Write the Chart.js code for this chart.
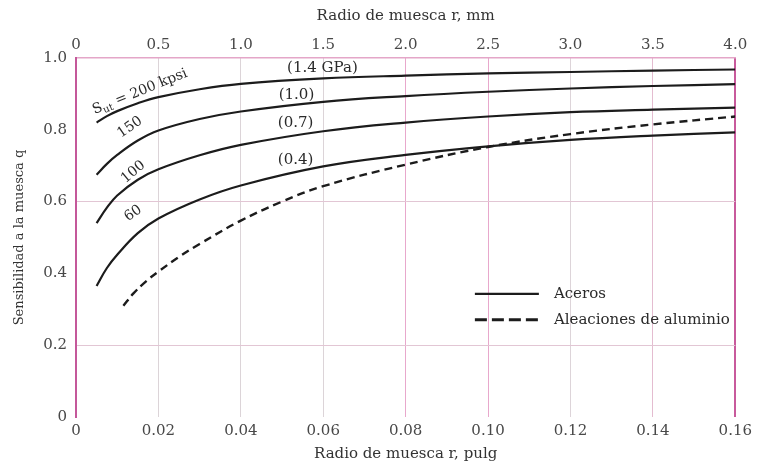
<!DOCTYPE html>
<html>
<head>
<meta charset="utf-8">
<script src="https://cdn.jsdelivr.net/npm/chart.js@4"></script>
<style>
html,body{margin:0;padding:0;background:#ffffff;}
#wrap{width:757px;height:468px;}
</style>
</head>
<body>
<div id="wrap"><canvas id="c" width="757" height="468"></canvas></div>
<script>
// ---- tick labels ----
const xTickLabelsIn = ['0','0.02','0.04','0.06','0.08','0.10','0.12','0.14','0.16'];
const xTickLabelsMm = ['0','0.5','1.0','1.5','2.0','2.5','3.0','3.5','4.0'];
const yTickLabels   = ['0','0.2','0.4','0.6','0.8','1.0'];

// ---- series: notch radius r (in) and notch sensitivity q ----
const steelR    = [0.005, 0.0075, 0.01, 0.015, 0.02, 0.03, 0.04, 0.06, 0.08, 0.10, 0.12, 0.14, 0.16];
const steel200Q = [0.82, 0.838, 0.852, 0.874, 0.891, 0.913, 0.928, 0.943, 0.951, 0.957, 0.961, 0.965, 0.968];
const steel150Q = [0.675, 0.705, 0.73, 0.77, 0.798, 0.83, 0.851, 0.878, 0.894, 0.906, 0.915, 0.922, 0.927];
const steel100Q = [0.54, 0.583, 0.617, 0.661, 0.69, 0.729, 0.758, 0.796, 0.82, 0.837, 0.849, 0.856, 0.862];
const steel60Q  = [0.365, 0.415, 0.452, 0.512, 0.553, 0.606, 0.645, 0.698, 0.73, 0.754, 0.772, 0.784, 0.793];

const aluR = [0.0115, 0.014, 0.017, 0.02, 0.025, 0.03, 0.04, 0.05, 0.06, 0.08, 0.10, 0.12, 0.14, 0.16];
const aluQ = [0.31, 0.345, 0.378, 0.405, 0.446, 0.482, 0.547, 0.60, 0.643, 0.703, 0.752, 0.788, 0.815, 0.837];

// ---- curve annotations (text, anchor in data units, rotation deg) ----
const curveLabelText = ['S|ut| = 200 kpsi', '150', '100', '60', '(1.4 GPa)', '(1.0)', '(0.7)', '(0.4)'];
const curveLabelR    = [0.0155, 0.0131, 0.0139, 0.0139, 0.0598, 0.0535, 0.0533, 0.0533];
const curveLabelQ    = [0.906, 0.807, 0.682, 0.567, 0.972, 0.898, 0.819, 0.715];
const curveLabelRot  = [-22, -35, -40, -35, 0, 0, 0, 0];

const legendText = ['Aceros', 'Aleaciones de aluminio'];

const SERIF = "'DejaVu Serif', 'Liberation Serif', serif";
const INK = '#1c1c1c';

function pts(xs, ys){ return xs.map((x,i)=>({x:x, y:ys[i]})); }

const steelStyle = {borderColor: INK, borderWidth: 2.2, pointRadius: 0, fill: false, tension: 0.4, xAxisID: 'x', yAxisID: 'y'};

const datasets = [
  Object.assign({label: 'Aceros 200 kpsi', data: pts(steelR, steel200Q)}, steelStyle),
  Object.assign({label: 'Aceros 150 kpsi', data: pts(steelR, steel150Q)}, steelStyle),
  Object.assign({label: 'Aceros 100 kpsi', data: pts(steelR, steel100Q)}, steelStyle),
  Object.assign({label: 'Aceros 60 kpsi',  data: pts(steelR, steel60Q)},  steelStyle),
  Object.assign({label: 'Aleaciones de aluminio', data: pts(aluR, aluQ)}, steelStyle, {borderDash: [8,5], borderWidth: 2.4})
];

const xGridColors = ['rgba(0,0,0,0)', '#dcd4d8', '#dcd4d8', '#dcd4d8', '#e8a8cc', '#e8a8cc', '#ddd4d9', '#e4bcd0', '#c85a9c'];
const yGridShown = [0.2, 0.6];

const curveLabelPlugin = {
  id: 'curveLabels',
  afterDatasetsDraw(chart){
    const ctx = chart.ctx, xs = chart.scales.x, ys = chart.scales.y;
    ctx.save();
    ctx.fillStyle = '#2a2a2a';
    ctx.textBaseline = 'middle';
    curveLabelText.forEach((t, i) => {
      const px = xs.getPixelForValue(curveLabelR[i]);
      const py = ys.getPixelForValue(curveLabelQ[i]);
      ctx.save();
      ctx.translate(px, py);
      ctx.rotate(curveLabelRot[i] * Math.PI / 180);
      const parts = t.split('|');
      if (parts.length === 3) {
        const big = '14px ' + SERIF, small = '10px ' + SERIF;
        ctx.font = big; const w1 = ctx.measureText(parts[0]).width, w3 = ctx.measureText(parts[2]).width;
        ctx.font = small; const w2 = ctx.measureText(parts[1]).width;
        let x0 = -(w1 + w2 + w3) / 2;
        ctx.textAlign = 'left';
        ctx.font = big; ctx.fillText(parts[0], x0, 0);
        ctx.font = small; ctx.fillText(parts[1], x0 + w1, 4);
        ctx.font = big; ctx.fillText(parts[2], x0 + w1 + w2, 0);
      } else {
        ctx.font = (i < 4 ? '14px ' : '15px ') + SERIF;
        ctx.textAlign = 'center';
        ctx.fillText(t, 0, 0);
      }
      ctx.restore();
    });
    ctx.restore();
  }
};

const legendPlugin = {
  id: 'customLegend',
  afterDatasetsDraw(chart){
    const ctx = chart.ctx, xs = chart.scales.x, ys = chart.scales.y;
    const x0 = xs.getPixelForValue(0.0968);
    const y0 = ys.getPixelForValue(0.343);
    ctx.save();
    ctx.strokeStyle = INK;
    ctx.fillStyle = '#2a2a2a';
    ctx.font = '15px ' + SERIF;
    ctx.textBaseline = 'middle';
    ctx.textAlign = 'left';
    ctx.lineWidth = 2.4; ctx.setLineDash([]);
    ctx.beginPath(); ctx.moveTo(x0, y0); ctx.lineTo(x0 + 64, y0); ctx.stroke();
    ctx.fillText(legendText[0], x0 + 79, y0);
    const y1 = y0 + 26;
    ctx.lineWidth = 3; ctx.setLineDash([12, 5]);
    ctx.beginPath(); ctx.moveTo(x0, y1); ctx.lineTo(x0 + 64, y1); ctx.stroke();
    ctx.setLineDash([]);
    ctx.fillText(legendText[1], x0 + 79, y1);
    ctx.restore();
  }
};

const bgPlugin = {
  id: 'bg',
  beforeDraw(chart){
    const ctx = chart.ctx;
    ctx.save(); ctx.fillStyle = '#ffffff'; ctx.fillRect(0, 0, chart.width, chart.height); ctx.restore();
  }
};

const TICK_COLOR = '#484848';

new Chart(document.getElementById('c'), {
  type: 'line',
  data: { datasets: datasets },
  options: {
    responsive: false,
    devicePixelRatio: 1,
    animation: false,
    layout: { padding: { left: 0, right: 20, top: 0, bottom: 0 } },
    plugins: { legend: { display: false }, tooltip: { enabled: false } },
    scales: {
      x: {
        type: 'linear', position: 'bottom', min: 0, max: 0.16,
        afterBuildTicks(s){ s.ticks = xTickLabelsIn.map((l,i)=>({value: i*0.02})); },
        afterFit(s){ s.height = 51; },
        ticks: { callback: (v, i) => xTickLabelsIn[i], color: TICK_COLOR, font: { family: SERIF, size: 15 }, padding: 5, maxRotation: 0, autoSkip: false },
        grid: { drawTicks: false, color: (c) => xGridColors[c.index] || '#dcd4d8', lineWidth: (c) => c.index === 8 ? 2 : 1 },
        border: { display: false },
        title: { display: true, text: 'Radio de muesca r, pulg', color: '#333', font: { family: SERIF, size: 15 }, padding: { top: 0, bottom: 5 } }
      },
      x2: {
        type: 'linear', position: 'top', min: 0, max: 4,
        afterBuildTicks(s){ s.ticks = xTickLabelsMm.map((l,i)=>({value: i*0.5})); },
        afterFit(s){ s.height = 58; },
        ticks: { callback: (v, i) => xTickLabelsMm[i], color: TICK_COLOR, font: { family: SERIF, size: 15 }, padding: 4, maxRotation: 0, autoSkip: false },
        grid: { display: false, drawTicks: false },
        border: { display: true, color: '#e4a6c8', width: 1.5 },
        title: { display: true, text: 'Radio de muesca r, mm', color: '#333', font: { family: SERIF, size: 15 }, padding: { top: 7, bottom: 0 } }
      },
      y: {
        type: 'linear', position: 'left', min: 0, max: 1.0,
        afterBuildTicks(s){ s.ticks = yTickLabels.map((l,i)=>({value: i*0.2})); },
        afterFit(s){ s.width = 76; },
        ticks: { callback: (v, i) => yTickLabels[i], color: TICK_COLOR, font: { family: SERIF, size: 15 }, padding: 9 },
        grid: { drawTicks: false, color: (c) => (c.tick && yGridShown.some(g => Math.abs(g - c.tick.value) < 1e-6)) ? '#e2c6d4' : 'rgba(0,0,0,0)' },
        border: { display: true, color: '#c4589a', width: 2 },
        title: { display: true, text: 'Sensibilidad a la muesca q', color: '#333', font: { family: SERIF, size: 13 }, padding: { top: 12, bottom: 0 } }
      }
    }
  },
  plugins: [bgPlugin, curveLabelPlugin, legendPlugin]
});
</script>
</body>
</html>
